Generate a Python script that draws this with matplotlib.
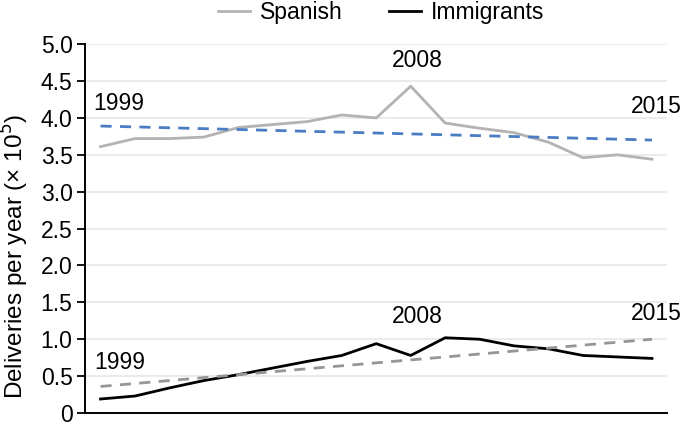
import matplotlib.pyplot as plt
from matplotlib.ticker import FuncFormatter
import numpy as np

plt.rcParams['font.family'] = ['Liberation Sans', 'DejaVu Sans']

years = list(range(1999, 2016))
spanish = [3.61, 3.72, 3.72, 3.74, 3.87, 3.91, 3.95, 4.04, 4.00, 4.43,
           3.93, 3.86, 3.80, 3.67, 3.46, 3.50, 3.44]
immigrants = [0.19, 0.23, 0.34, 0.44, 0.52, 0.61, 0.70, 0.78, 0.94, 0.78,
              1.02, 1.00, 0.91, 0.87, 0.78, 0.76, 0.74]
spanish_trend = [3.89, 3.70]
immigrants_trend = [0.36, 1.00]

fig = plt.figure(figsize=(6.85, 4.24), dpi=100)
ax = fig.add_axes([0.1241, 0.0259, 0.8496, 0.870])

ax.plot(years, spanish, color='#b3b3b3', lw=2, label='Spanish')
ax.plot(years, immigrants, color='black', lw=2, label='Immigrants')
ax.plot([years[0], years[-1]], spanish_trend, color='#4a7cc4', lw=2, dashes=(4, 3))
ax.plot([years[0], years[-1]], immigrants_trend, color='#969696', lw=2, dashes=(4, 3))

fs = 16.5
# year labels near the curves
ax.text(1998.78, 4.20, '1999', fontsize=fs, ha='left', va='center')
ax.text(2007.46, 4.78, '2008', fontsize=fs, ha='left', va='center')
ax.text(2015.87, 4.15, '2015', fontsize=fs, ha='right', va='center', clip_on=False)
ax.text(1998.81, 0.68, '1999', fontsize=fs, ha='left', va='center')
ax.text(2007.46, 1.31, '2008', fontsize=fs, ha='left', va='center')
ax.text(2015.87, 1.355, '2015', fontsize=fs, ha='right', va='center', clip_on=False)

ax.set_xlim(1998.55, 2015.435)
ax.set_ylim(0, 5.0)
ax.set_yticks(np.arange(0, 5.01, 0.5))
ax.yaxis.set_major_formatter(FuncFormatter(lambda v, p: '0' if v == 0 else f'{v:.1f}'))
ax.tick_params(axis='y', labelsize=fs, length=6, width=1.3, direction='out', pad=3)
ax.set_xticks([])
ax.grid(axis='y', color='#e8e8e8', lw=1.2)
ax.set_axisbelow(True)
for s in ['top', 'right']:
    ax.spines[s].set_visible(False)
ax.spines['left'].set_linewidth(1.4)
ax.spines['bottom'].set_linewidth(1.4)
ax.set_ylabel('Deliveries per year (× 10$^5$)', fontsize=17.5)
ax.yaxis.set_label_coords(-0.092, 0.425)

ax.legend(loc='center', bbox_to_anchor=(0.509, 1.087), ncol=2, frameon=False,
          fontsize=fs, handlelength=1.4, handletextpad=0.45, columnspacing=2.0)

fig.savefig('out.png', dpi=100)
